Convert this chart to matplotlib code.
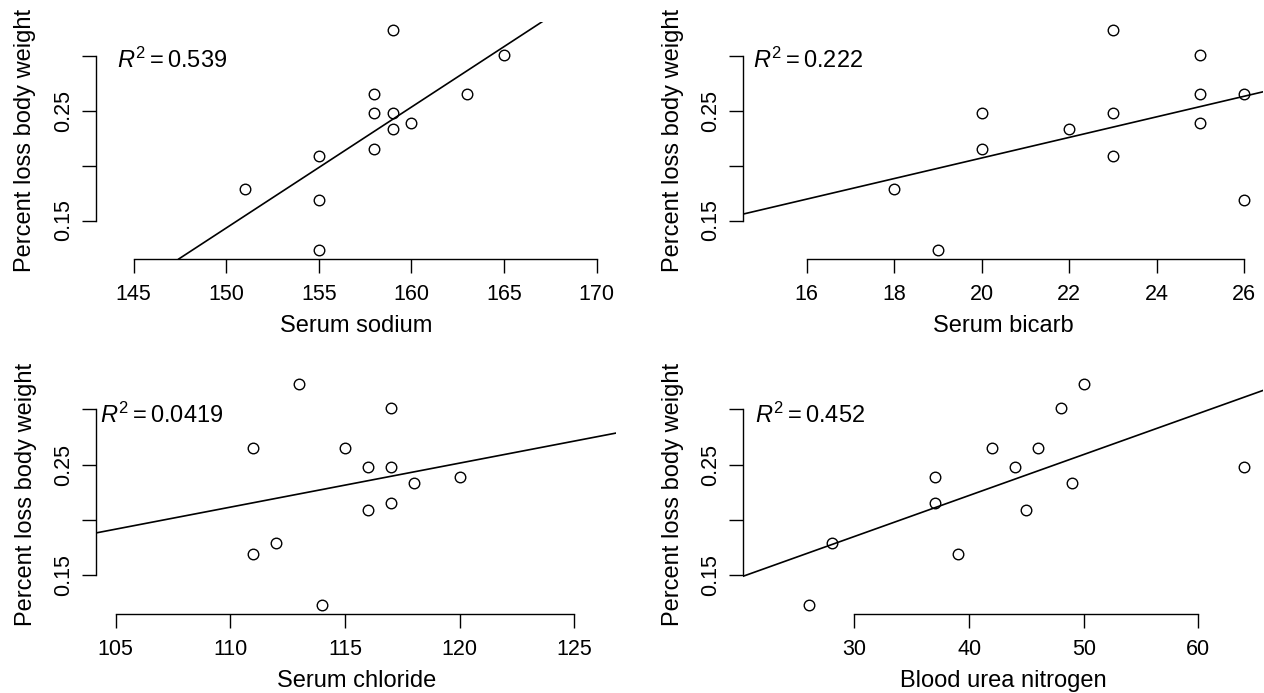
import numpy as np
import matplotlib.pyplot as plt

plt.rcParams['font.family'] = ['Liberation Sans', 'DejaVu Sans']
plt.rcParams['mathtext.fontset'] = 'custom'
plt.rcParams['mathtext.rm'] = 'Liberation Sans'
plt.rcParams['mathtext.it'] = 'Liberation Sans:italic'

# percent loss of body weight (same y for every panel)
weight_loss = [0.323, 0.301, 0.265, 0.265, 0.248, 0.248, 0.239, 0.233, 0.215, 0.209, 0.179, 0.169, 0.123]

sodium   = [159, 165, 158, 163, 158, 159, 160, 159, 158, 155, 151, 155, 155]
bicarb   = [23, 25, 25, 26, 20, 23, 25, 22, 20, 23, 18, 26, 19]
chloride = [113, 117, 111, 115, 116, 117, 120, 118, 117, 116, 112, 111, 114]
bun      = [50, 48, 42, 46, 44, 64, 37, 49, 37, 45, 28, 39, 26]

xlabels = ["Serum sodium", "Serum bicarb", "Serum chloride", "Blood urea nitrogen"]
r2_text = ["0.539", "0.222", "0.0419", "0.452"]
xticks = [[145, 150, 155, 160, 165, 170],
          [16, 18, 20, 22, 24, 26],
          [105, 110, 115, 120, 125],
          [30, 40, 50, 60]]
xlims = [(142.96, 171.04), (14.56, 26.44), (104.16, 126.84), (20.32, 65.68)]
yticks = [0.15, 0.20, 0.25, 0.30]
ytick_labels = ["0.15", "", "0.25", ""]

# axes rectangles (figure fractions)
positions = [[0.0759, 0.6263, 0.4114, 0.3426],
             [0.5882, 0.6263, 0.4114, 0.3426],
             [0.0763, 0.1140, 0.4114, 0.3449],
             [0.5882, 0.1140, 0.4114, 0.3449]]
r2_pos = [(0.040, 0.835), (0.018, 0.835), (0.007, 0.833), (0.022, 0.833)]

fig = plt.figure(figsize=(12.64, 6.93), dpi=100)

xs_all = [sodium, bicarb, chloride, bun]
for i in range(4):
    ax = fig.add_axes(positions[i])
    x = np.array(xs_all[i], dtype=float)
    y = np.array(weight_loss)
    ax.plot(x, y, 'o', mfc='none', mec='black', ms=7.6, mew=1.0, clip_on=False)

    # least squares line, drawn across the plot region
    slope, icpt = np.polyfit(x, y, 1)
    ax.axline((0, icpt), slope=slope, color='black', lw=1.2)

    ax.set_xlim(xlims[i])
    ax.set_ylim(0.115, 0.331)
    ax.set_xticks(xticks[i])
    ax.set_yticks(yticks)
    ax.set_yticklabels(ytick_labels)

    for s in ['top', 'right']:
        ax.spines[s].set_visible(False)
    ax.spines['bottom'].set_bounds(xticks[i][0], xticks[i][-1])
    ax.spines['left'].set_bounds(0.15, 0.30)
    ax.spines['bottom'].set_linewidth(1.0)
    ax.spines['left'].set_linewidth(1.0)

    ax.tick_params(axis='both', direction='out', length=10, width=1.0,
                   labelsize=15.5, colors='black')
    ax.tick_params(axis='x', pad=8)
    ax.tick_params(axis='y', pad=6, labelrotation=90)
    for lbl in ax.get_yticklabels():
        lbl.set_va('center')

    ax.set_xlabel(xlabels[i], fontsize=17, labelpad=7)
    ax.set_ylabel("Percent loss body weight", fontsize=17, labelpad=12)

    ax.text(r2_pos[i][0], r2_pos[i][1], r'$R^2 = \mathrm{' + r2_text[i] + '}$',
            transform=ax.transAxes, fontsize=17, ha='left', va='center')

fig.savefig("out.png", dpi=100)
